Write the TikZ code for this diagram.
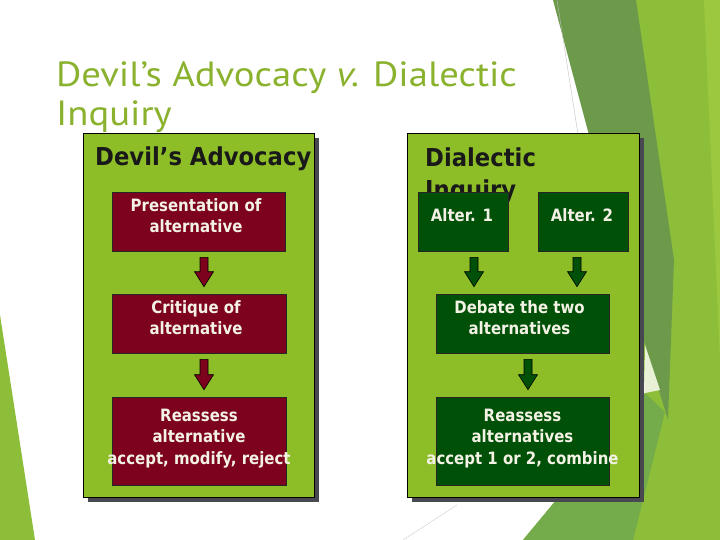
\documentclass[tikz,border=0pt]{standalone}
\usepackage{fontspec}
\setmainfont{DejaVu Sans}
\newfontfamily\titlefont[FakeStretch=1.105]{PT Sans}
\newfontfamily\headfont[FakeStretch=0.92]{DejaVu Sans}
\newfontfamily\boxfont[FakeStretch=0.88]{DejaVu Sans}
\usetikzlibrary{calc,shadows}
\definecolor{titlegreen}{RGB}{138,178,46}
\definecolor{panelgreen}{RGB}{141,190,40}
\definecolor{boxred}{RGB}{124,2,30}
\definecolor{boxgreen}{RGB}{0,80,8}
\definecolor{shadowgray}{RGB}{72,72,80}
\definecolor{boxtext}{RGB}{244,242,228}
\definecolor{bgdark}{RGB}{108,154,74}
\definecolor{bgmid}{RGB}{116,172,76}
\definecolor{bglight}{RGB}{141,190,58}
\definecolor{bgbright}{RGB}{156,200,64}
\definecolor{bgpale}{RGB}{232,240,214}
\newcommand\blockarrow[4]{%
  \path let \p1=(#2.south), \p2=(#3.north) in
    [draw=black, line width=0.6pt, fill=#4]
    (#1pt-4pt,\y1-6pt) -- (#1pt+4pt,\y1-6pt) -- (#1pt+4pt,\y2+22pt)
    -- (#1pt+9.5pt,\y2+22pt) -- (#1pt,\y2+7pt) -- (#1pt-9.5pt,\y2+22pt)
    -- (#1pt-4pt,\y2+22pt) -- cycle;}
\begin{document}
\begin{tikzpicture}[x=1pt,y=-1pt,
  panel/.style={draw=black, line width=0.8pt, fill=panelgreen, inner sep=0pt,
    drop shadow={shadow xshift=5pt, shadow yshift=-5pt, fill=shadowgray, opacity=1}},
  redbox/.style={draw=black!85, line width=0.6pt, fill=boxred, inner sep=0pt},
  greenbox/.style={draw=black!85, line width=0.6pt, fill=boxgreen, inner sep=0pt},
  boxlabel/.style={text=boxtext, inner sep=0pt, anchor=north, align=center,
    font=\boxfont\bfseries\fontsize{17}{21.5}\selectfont},
  heading/.style={text=black!90, inner sep=0pt, align=left,
    font=\headfont\bfseries\fontsize{24.7}{32}\selectfont},
  titletext/.style={text=titlegreen, inner sep=0pt, align=left,
    font=\titlefont\fontsize{35}{39}\selectfont}
]
\useasboundingbox (0,0) rectangle (720,540);
\fill[white] (0,0) rectangle (720,540);
% background facets
\fill[bglight] (636,0) -- (720,0) -- (720,540) -- (523,540) -- (645,393) -- cycle;
\fill[bgbright] (704,0) -- (720,0) -- (720,360) -- cycle;
\fill[bgmid] (523,540) -- (645,393) -- (665,412) -- (633,540) -- cycle;
\fill[bgdark] (553,0) -- (636,0) -- (674,260) -- (668,420) -- (645,345) -- cycle;
\fill[bgpale] (645,345) -- (660,390) -- (645,393) -- cycle;
\fill[bglight] (0,315) -- (35,540) -- (0,540) -- cycle;
\draw[gray!50, line width=0.4pt] (557,0) -- (582,160);
\draw[gray!40, line width=0.4pt] (403,540) -- (457,505);
% title
\node[titletext, anchor=north west] (title) at (56,61)
  {Devil’s Advocacy \textit{v.} Dialectic\\Inquiry};
% panels
\node[panel, minimum width=231pt, minimum height=364pt] (lpanel) at (198.5,315) {};
\node[panel, minimum width=232pt, minimum height=364pt] (rpanel) at (523,315) {};
% headings
\node[heading, anchor=base west] (lhead) at (95,166) {Devil’s Advocacy};
\node[heading, anchor=north west] (rhead) at (425,147.2) {Dialectic\\Inquiry};
% left column boxes
\node[redbox, minimum width=173pt, minimum height=59pt] (p1) at (198.5,221.5) {};
\node[redbox, minimum width=174pt, minimum height=59pt] (p2) at (199,323.5) {};
\node[redbox, minimum width=174pt, minimum height=88pt] (p3) at (199,441) {};
% right column boxes
\node[greenbox, minimum width=90pt, minimum height=59pt] (alt1) at (463,221.5) {};
\node[greenbox, minimum width=90pt, minimum height=59pt] (alt2) at (583,221.5) {};
\node[greenbox, minimum width=173pt, minimum height=59pt] (deb) at (522.5,323.5) {};
\node[greenbox, minimum width=173pt, minimum height=88pt] (rea) at (522.5,441) {};
% labels
\node[boxlabel] (tp1) at (196,198) {Presentation of\\alternative};
\node[boxlabel] (tp2) at (196,300) {Critique of\\alternative};
\node[boxlabel] (tp3) at (199,408.6) {Reassess\\alternative\\accept, modify, reject};
\node[boxlabel] (ta1) at (462,208) {Alter. 1};
\node[boxlabel] (ta2) at (582,208) {Alter. 2};
\node[boxlabel] (tdeb) at (519.5,300) {Debate the two\\alternatives};
\node[boxlabel] (trea) at (522.5,408.6) {Reassess\\alternatives\\accept 1 or 2, combine};
% arrows
\blockarrow{204}{p1}{p2}{boxred}
\blockarrow{204}{p2}{p3}{boxred}
\blockarrow{474}{alt1}{deb}{boxgreen}
\blockarrow{577}{alt2}{deb}{boxgreen}
\blockarrow{528}{deb}{rea}{boxgreen}
\end{tikzpicture}
\end{document}
